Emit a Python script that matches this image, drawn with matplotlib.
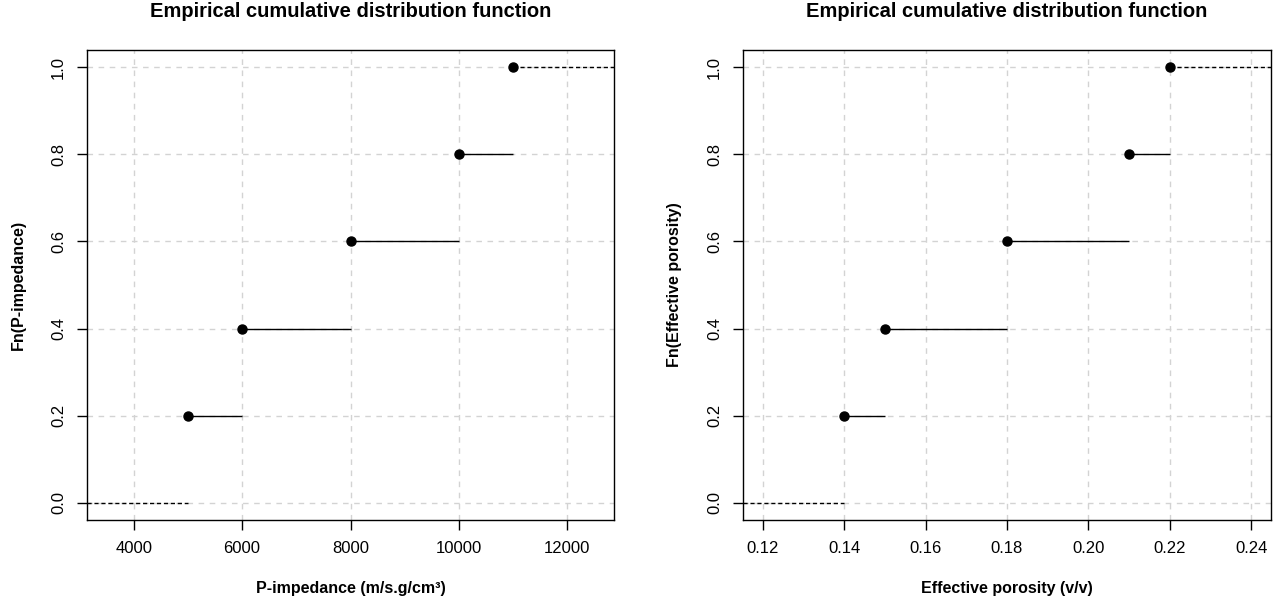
import numpy as np
import matplotlib
matplotlib.use('Agg')
from matplotlib import pyplot as plt

plt.rcParams['font.family'] = ['Liberation Sans', 'DejaVu Sans']

# sample values (each point carries 1/5 of the mass)
p_impedance = [5000, 6000, 8000, 10000, 11000]
porosity = [0.14, 0.15, 0.18, 0.21, 0.22]

imp_ticks = [4000, 6000, 8000, 10000, 12000]
por_ticks = [0.12, 0.14, 0.16, 0.18, 0.20, 0.22, 0.24]
y_ticks = [0.0, 0.2, 0.4, 0.6, 0.8, 1.0]


def ecdf_plot(ax, data, xticks, xfmt, xlabel, ylabel):
    x = np.sort(np.array(data, dtype=float))
    n = len(x)
    fn = np.arange(1, n + 1) / n
    # R plot.stepfun style limits
    dr = max(0.08 * (x[-1] - x[0]), np.median(np.diff(x)))
    lo, hi = x[0] - dr, x[-1] + dr
    pad = 0.04 * (hi - lo)
    xlim = (lo - pad, hi + pad)

    for t in xticks:
        ax.axvline(t, color='#d3d3d3', ls=(0, (4, 4)), lw=1, zorder=1)
    for t in y_ticks:
        ax.axhline(t, color='#d3d3d3', ls=(0, (4, 4)), lw=1, zorder=1)

    # end pieces look dashed, interior steps solid
    ax.hlines(0, xlim[0], x[0], color='black', lw=1, ls=(0, (3, 2)), zorder=2)
    ax.hlines(1, x[-1], xlim[1], color='black', lw=1, ls=(0, (3, 2)), zorder=2)
    ax.hlines(fn[:-1], x[:-1], x[1:], color='black', lw=1, zorder=2)
    ax.plot(x, fn, 'o', color='black', ms=6.5, zorder=4)

    ax.set_xlim(xlim)
    ax.set_ylim(-0.04, 1.04)
    ax.set_xticks(xticks)
    ax.set_xticklabels([xfmt.format(t) for t in xticks])
    ax.set_yticks(y_ticks)
    ax.set_yticklabels(['{:.1f}'.format(t) for t in y_ticks], rotation=90, va='center')
    ax.tick_params(direction='out', length=7, width=1, labelsize=12, pad=8)
    for s in ax.spines.values():
        s.set_linewidth(1)
    ax.set_title('Empirical cumulative distribution function', fontsize=14.5,
                 fontweight='bold', pad=24)
    ax.set_xlabel(xlabel, fontsize=11.5, fontweight='bold', labelpad=18)
    ax.set_ylabel(ylabel, fontsize=11.5, fontweight='bold', labelpad=18)


fig = plt.figure(figsize=(12.73, 6.01), dpi=100)
ax1 = fig.add_axes([87 / 1273, 81 / 601, 527 / 1273, 470 / 601])
ax2 = fig.add_axes([743 / 1273, 81 / 601, 528 / 1273, 470 / 601])

ecdf_plot(ax1, p_impedance, imp_ticks, '{:d}', 'P-impedance (m/s.g/cm³)', 'Fn(P-impedance)')
ecdf_plot(ax2, porosity, por_ticks, '{:.2f}', 'Effective porosity (v/v)', 'Fn(Effective porosity)')

fig.savefig('out.png', dpi=100)
